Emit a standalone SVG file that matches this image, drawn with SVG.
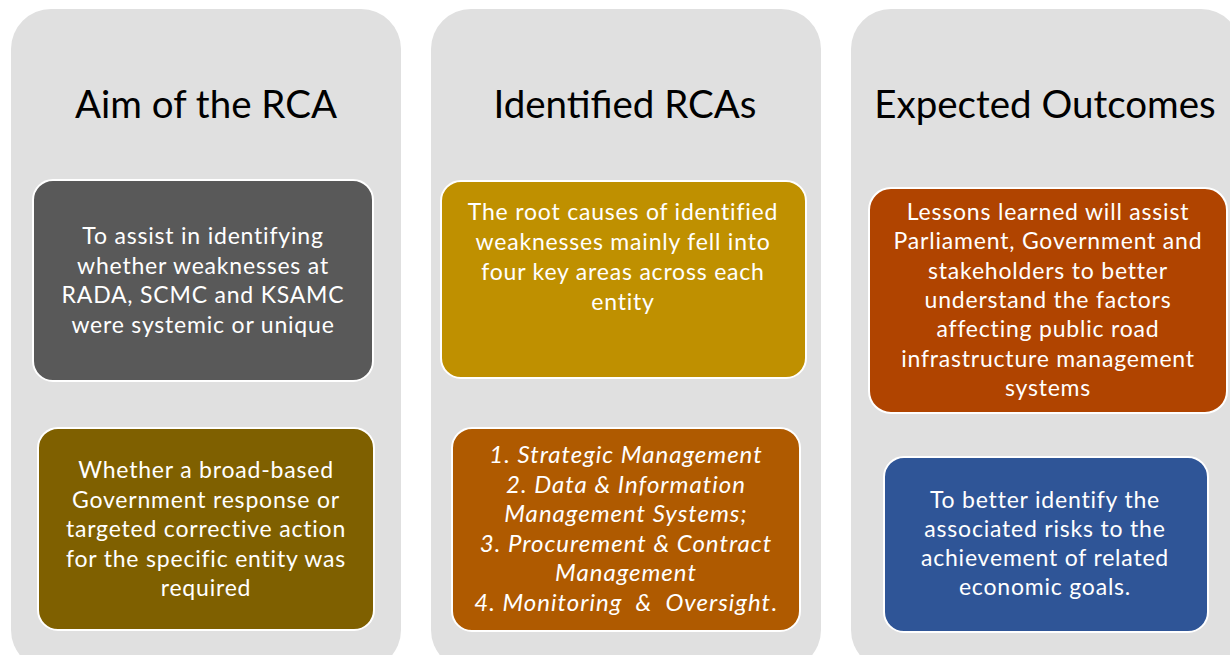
<svg xmlns="http://www.w3.org/2000/svg" width="1230" height="655" viewBox="0 0 1230 655">
<style>
.col{fill:#E0E0E0;}
.box{stroke:#FFFFFF;stroke-width:2;}
.title{font-family:Lato,"Liberation Sans",sans-serif;font-size:38.5px;fill:#000000;text-anchor:middle;}
.t{font-family:Lato,"Liberation Sans",sans-serif;font-size:23px;letter-spacing:0.8px;fill:#FFFFFF;text-anchor:middle;}
.it{font-style:italic;font-size:24px;letter-spacing:1px;white-space:pre;}
</style>
<rect width="1230" height="655" fill="#FFFFFF"/>
<g id="col-aim">
<rect class="col" x="11" y="9" width="390" height="661" rx="40"/>
<text class="title" x="206" y="118">Aim of the RCA</text>
</g>
<g id="col-identified">
<rect class="col" x="431" y="9" width="390" height="661" rx="40"/>
<text class="title" x="625" y="118">Identified RCAs</text>
</g>
<g id="col-outcomes">
<rect class="col" x="851" y="9" width="390" height="661" rx="40"/>
<text class="title" x="1045" y="118">Expected Outcomes</text>
</g>
<g id="node-aim1">
<rect class="box" x="33" y="180" width="340" height="201" rx="20" fill="#595959"/>
<text class="t" x="203"><tspan x="203" y="244">To assist in identifying</tspan><tspan x="203" y="273.5">whether weaknesses at</tspan><tspan x="203" y="303">RADA, SCMC and KSAMC</tspan><tspan x="203" y="332.5">were systemic or unique</tspan></text>
</g>
<g id="node-aim2">
<rect class="box" x="38" y="428" width="336" height="202" rx="20" fill="#7F6000"/>
<text class="t" x="206"><tspan x="206" y="478">Whether a broad-based</tspan><tspan x="206" y="507.5">Government response or</tspan><tspan x="206" y="537">targeted corrective action</tspan><tspan x="206" y="566.5">for the specific entity was</tspan><tspan x="206" y="596">required</tspan></text>
</g>
<g id="node-rca1">
<rect class="box" x="441" y="181" width="365" height="197" rx="20" fill="#BF9000"/>
<text class="t" x="623"><tspan x="623" y="220">The root causes of identified</tspan><tspan x="623" y="250">weaknesses mainly fell into</tspan><tspan x="623" y="280">four key areas across each</tspan><tspan x="623" y="310">entity</tspan></text>
</g>
<g id="node-rca2">
<rect class="box" x="452" y="428" width="348" height="203" rx="20" fill="#AF5A00"/>
<text class="t it" x="626"><tspan x="626" y="463">1. Strategic Management</tspan><tspan x="626" y="492.5">2. Data &amp; Information</tspan><tspan x="626" y="522">Management Systems;</tspan><tspan x="626" y="551.5">3. Procurement &amp; Contract</tspan><tspan x="626" y="581">Management</tspan><tspan x="626" y="610.5">4. Monitoring  &amp;  Oversight<tspan font-style="normal">.</tspan></tspan></text>
</g>
<g id="node-out1">
<rect class="box" x="869" y="188" width="358" height="225" rx="22" fill="#B04400"/>
<text class="t" x="1048"><tspan x="1048" y="220">Lessons learned will assist</tspan><tspan x="1048" y="249.3">Parliament, Government and</tspan><tspan x="1048" y="278.6">stakeholders to better</tspan><tspan x="1048" y="308">understand the factors</tspan><tspan x="1048" y="337.3">affecting public road</tspan><tspan x="1048" y="366.6">infrastructure management</tspan><tspan x="1048" y="396">systems</tspan></text>
</g>
<g id="node-out2">
<rect class="box" x="884" y="457" width="324" height="175" rx="20" fill="#2F5597"/>
<text class="t" x="1045"><tspan x="1045" y="508">To better identify the</tspan><tspan x="1045" y="537">associated risks to the</tspan><tspan x="1045" y="566">achievement of related</tspan><tspan x="1045" y="595">economic goals.</tspan></text>
</g>
<g id="connectors"></g>
</svg>
